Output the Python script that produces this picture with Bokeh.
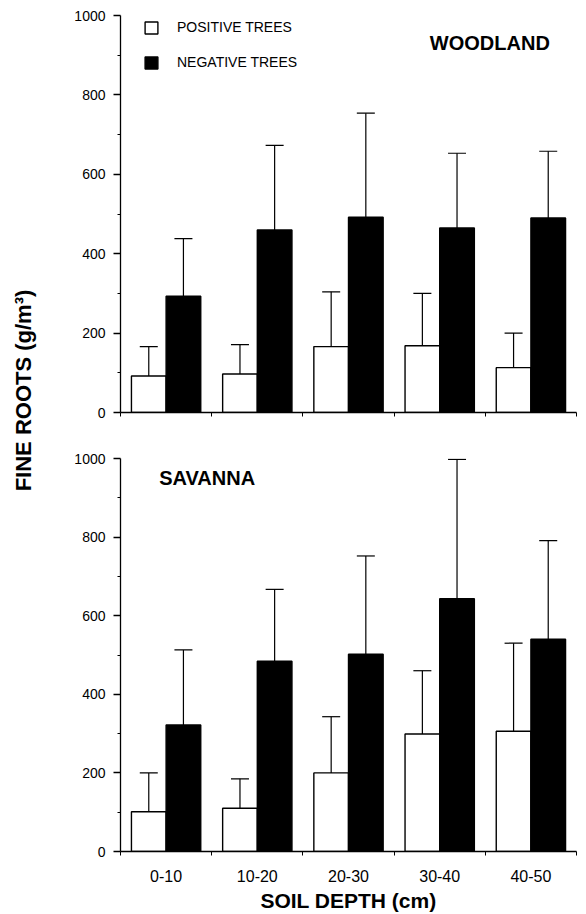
import numpy as np
from bokeh.plotting import figure
from bokeh.models import (ColumnDataSource, Range1d, FixedTicker, Whisker, TeeHead,
                          Legend, LegendItem, Label)
from bokeh.layouts import row, column
from bokeh.transform import dodge
from bokeh.embed import file_html
from bokeh.resources import INLINE

# ---------------- data ----------------
categories = ["0-10", "10-20", "20-30", "30-40", "40-50"]

woodland_positive = [92, 97, 166, 168, 113]
woodland_positive_err = [166, 171, 304, 300, 200]
woodland_negative = [293, 460, 492, 465, 490]
woodland_negative_err = [438, 673, 754, 653, 658]

savanna_positive = [101, 110, 200, 299, 306]
savanna_positive_err = [200, 185, 343, 460, 530]
savanna_negative = [322, 484, 502, 643, 540]
savanna_negative_err = [513, 667, 752, 998, 791]

y_ticks = [0, 200, 400, 600, 800, 1000]
y_minor_ticks = [100, 300, 500, 700, 900]

FONT = "Liberation Sans"
OFF = 0.19
BW = 0.38

centers = [i + 0.5 for i in range(len(categories))]
bounds = list(range(len(categories) + 1))


def make_panel(pos, pos_up, neg, neg_up, width, height, borders, show_labels, title, title_xy, legend):
    left, right, top, bottom = borders
    p = figure(width=width, height=height, output_backend="svg", toolbar_location=None,
               x_range=Range1d(0, len(categories)), y_range=Range1d(0, 1000),
               min_border_left=left, min_border_right=right,
               min_border_top=top, min_border_bottom=bottom)
    p.outline_line_color = None
    p.grid.visible = False
    p.background_fill_color = "white"
    p.border_fill_color = "white"

    src = ColumnDataSource(dict(x=centers, pos=pos, pos_up=pos_up, neg=neg, neg_up=neg_up))

    r_pos = p.vbar(x=dodge("x", -OFF), top="pos", bottom=0, width=BW, source=src,
                   fill_color="white", line_color="black", line_width=1.4)
    r_neg = p.vbar(x=dodge("x", OFF), top="neg", bottom=0, width=BW, source=src,
                   fill_color="black", line_color="black", line_width=1.4)

    for off, lo, up in ((-OFF, "pos", "pos_up"), (OFF, "neg", "neg_up")):
        w = Whisker(source=src, base=dodge("x", off), lower=lo, upper=up, dimension="height",
                    line_color="black", line_width=1.2, lower_head=None,
                    upper_head=TeeHead(size=18, line_color="black", line_width=1.2),
                    level="glyph")
        p.add_layout(w)

    # y axis
    ya = p.yaxis[0]
    ya.ticker = FixedTicker(ticks=y_ticks, minor_ticks=y_minor_ticks)
    ya.major_tick_out = 7
    ya.major_tick_in = 0
    ya.minor_tick_out = 3
    ya.minor_tick_in = 0
    ya.axis_line_width = 1.3
    ya.major_tick_line_width = 1.3
    ya.major_label_text_font = FONT
    ya.major_label_text_font_size = "14px"
    ya.major_label_text_color = "black"
    ya.major_label_standoff = 8

    # x axis
    xa = p.xaxis[0]
    if show_labels:
        xa.ticker = FixedTicker(ticks=centers, minor_ticks=bounds)
        xa.major_label_overrides = {c: lab for c, lab in zip(centers, categories)}
        xa.axis_label = "SOIL DEPTH (cm)"
        xa.axis_label_text_font = FONT
        xa.axis_label_text_font_style = "bold"
        xa.axis_label_text_font_size = "21px"
        xa.axis_label_text_color = "black"
        xa.axis_label_standoff = 4
        xa.major_label_text_font = FONT
        xa.major_label_text_font_size = "16px"
        xa.major_label_text_color = "black"
        xa.major_label_standoff = 14
    else:
        xa.ticker = FixedTicker(ticks=[], minor_ticks=bounds)
    xa.major_tick_out = 0
    xa.major_tick_in = 0
    xa.minor_tick_out = 4
    xa.minor_tick_in = 0
    xa.axis_line_width = 1.3

    # panel title
    tx, ty = title_xy
    p.add_layout(Label(x=tx, y=ty, text=title, text_font=FONT, text_font_style="bold",
                       text_font_size="20px", text_color="black",
                       text_align="center", text_baseline="middle"))

    if legend:
        frame_h = height - top - bottom
        leg_h = 15 + 19 + 15
        lg = Legend(items=[LegendItem(label="POSITIVE TREES", renderers=[r_pos]),
                           LegendItem(label="NEGATIVE TREES", renderers=[r_neg])],
                    location=(23, frame_h - 6 - leg_h),
                    glyph_width=16, glyph_height=15, label_height=15, spacing=19,
                    padding=0, margin=0, label_standoff=18,
                    label_text_font=FONT, label_text_font_size="14px",
                    label_text_color="black", label_text_baseline="middle",
                    border_line_color=None, background_fill_alpha=0)
        p.add_layout(lg, "center")
    return p


top = make_panel(woodland_positive, woodland_positive_err, woodland_negative, woodland_negative_err,
                 width=538, height=435, borders=(72, 5, 15, 23), show_labels=False,
                 title="WOODLAND", title_xy=(4.05, 930), legend=True)
bottom = make_panel(savanna_positive, savanna_positive_err, savanna_negative, savanna_negative_err,
                    width=538, height=479, borders=(70, 10, 23, 63), show_labels=True,
                    title="SAVANNA", title_xy=(0.95, 950), legend=False)

lab = figure(width=48, height=914, output_backend="svg", toolbar_location=None,
             x_range=Range1d(0, 48), y_range=Range1d(0, 914),
             x_axis_location=None, y_axis_location=None,
             min_border=0, min_border_left=0, min_border_right=0,
             min_border_top=0, min_border_bottom=0)
lab.outline_line_color = None
lab.grid.visible = False
lab.add_layout(Label(x=23, y=524, text="FINE ROOTS (g/m³)", angle=90, angle_units="deg",
                     text_font=FONT, text_font_style="bold", text_font_size="22px",
                     text_color="black", text_align="center", text_baseline="middle"))

layout = row(lab, column(top, bottom))

open("out.html", "w").write(file_html(layout, INLINE))
